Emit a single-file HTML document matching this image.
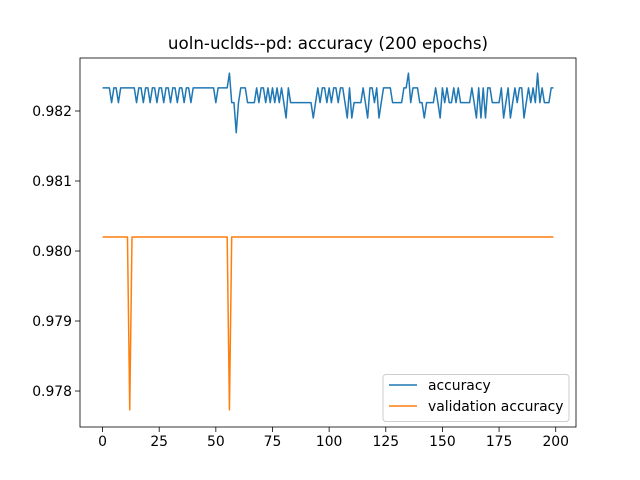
<!DOCTYPE html>
<html><head><meta charset="utf-8"><style>
body{margin:0;background:#fff;}
svg{display:block;font-family:"DejaVu Sans","Liberation Sans",sans-serif;}
</style></head><body>
<svg id="chart" width="640" height="480" viewBox="0 0 640 480">
<rect width="640" height="480" fill="#fff"/>
<text x="328" y="49" font-size="16.7" text-anchor="middle">uoln-uclds--pd: accuracy (200 epochs)</text>
<g id="plot"></g>
</svg>
<script>
const xTicks=[0,25,50,75,100,125,150,175,200];
const yTicks=[0.978,0.979,0.980,0.981,0.982];
const yTickLabels=["0.978","0.979","0.980","0.981","0.982"];
const accuracy=[
0.98233,0.98233,0.98233,0.98233,0.98212,0.98233,0.98233,0.98212,0.98233,0.98233,
0.98233,0.98233,0.98233,0.98233,0.98233,0.98212,0.98233,0.98233,0.98212,0.98233,
0.98233,0.98212,0.98233,0.98233,0.98212,0.98233,0.98233,0.98212,0.98233,0.98233,
0.98212,0.98233,0.98233,0.98212,0.98233,0.98233,0.98212,0.98233,0.98233,0.98212,
0.98233,0.98233,0.98233,0.98233,0.98233,0.98233,0.98233,0.98233,0.98233,0.98233,
0.98212,0.98233,0.98233,0.98233,0.98233,0.98233,0.98254,0.98212,0.98212,0.98169,
0.98212,0.98233,0.98233,0.98233,0.98212,0.98212,0.98212,0.98212,0.98233,0.98212,
0.98233,0.98233,0.98212,0.98233,0.98212,0.98233,0.98212,0.98233,0.98212,0.98233,
0.98212,0.98190,0.98233,0.98212,0.98212,0.98212,0.98212,0.98212,0.98212,0.98212,
0.98212,0.98212,0.98212,0.98190,0.98212,0.98233,0.98212,0.98233,0.98233,0.98212,
0.98233,0.98212,0.98233,0.98233,0.98212,0.98233,0.98233,0.98212,0.98190,0.98233,
0.98190,0.98212,0.98212,0.98212,0.98212,0.98233,0.98212,0.98190,0.98233,0.98233,
0.98212,0.98233,0.98190,0.98212,0.98233,0.98233,0.98233,0.98233,0.98212,0.98212,
0.98212,0.98212,0.98212,0.98233,0.98233,0.98254,0.98212,0.98233,0.98233,0.98233,
0.98212,0.98212,0.98190,0.98212,0.98212,0.98212,0.98212,0.98233,0.98212,0.98190,
0.98233,0.98212,0.98233,0.98212,0.98212,0.98233,0.98212,0.98233,0.98212,0.98212,
0.98212,0.98212,0.98212,0.98233,0.98212,0.98190,0.98233,0.98190,0.98233,0.98190,
0.98233,0.98233,0.98212,0.98212,0.98212,0.98212,0.98233,0.98190,0.98212,0.98233,
0.98190,0.98212,0.98233,0.98212,0.98233,0.98233,0.98190,0.98212,0.98233,0.98212,
0.98233,0.98212,0.98254,0.98212,0.98233,0.98212,0.98212,0.98212,0.98233,0.98233];
const valAccuracy=[];
for(let i=0;i<200;i++){valAccuracy.push(0.9802);}
valAccuracy[12]=0.97773; valAccuracy[56]=0.97773;

const NS="http://www.w3.org/2000/svg";
const L=80,R=576,T=58,B=427;
const xMin=-9.95,xMax=208.95,yMin=0.977486,yMax=0.982757;
const xs=v=>L+(v-xMin)/(xMax-xMin)*(R-L);
const ys=v=>B-(v-yMin)/(yMax-yMin)*(B-T);
const g=document.getElementById('plot');
function mk(tag,attrs){const e=document.createElementNS(NS,tag);for(const k in attrs)e.setAttribute(k,attrs[k]);g.appendChild(e);return e;}

xTicks.forEach(t=>{
  const x=xs(t);
  const tk=mk('line',{x1:x,x2:x,y1:B,y2:B+5,stroke:'#000','stroke-width':0.8});
  
  
  const tx=mk('text',{x:x,y:B+19,'font-size':13.9,'text-anchor':'middle'});
  tx.textContent=String(t);
  
  
});
yTicks.forEach((t,i)=>{
  const y=ys(t);
  const tk=mk('line',{x1:L-5,x2:L,y1:y,y2:y,stroke:'#000','stroke-width':0.8});
  
  
  const tx=mk('text',{x:L-8,y:y+5,'font-size':13.9,'text-anchor':'end'});
  tx.textContent=yTickLabels[i];
  
  
});
function series(arr,color,name){
  const p=mk('polyline',{points:arr.map((v,i)=>xs(i)+','+ys(v)).join(' '),fill:'none',stroke:color,'stroke-width':1.5,'stroke-linejoin':'round'});
  
  
}
series(accuracy,'#1f77b4','accuracy-line');
series(valAccuracy,'#ff7f0e','validation-accuracy-line');
const frame=mk('rect',{x:L,y:T,width:R-L,height:B-T,fill:'none',stroke:'#000','stroke-width':0.8});



const lg=mk('rect',{x:383,y:374.5,width:186,height:47,rx:3,fill:'#fff','fill-opacity':0.8,stroke:'#ccc','stroke-width':1});


[['accuracy','#1f77b4',390],['validation accuracy','#ff7f0e',411]].forEach(([lab,c,y])=>{
  const ln=mk('line',{x1:389,x2:417,y1:y-5,y2:y-5,stroke:c,'stroke-width':1.5});
  
  
  const t=mk('text',{x:428,y:y,'font-size':13.9});
  t.textContent=lab;
  
  
});
</script>
</body></html>
